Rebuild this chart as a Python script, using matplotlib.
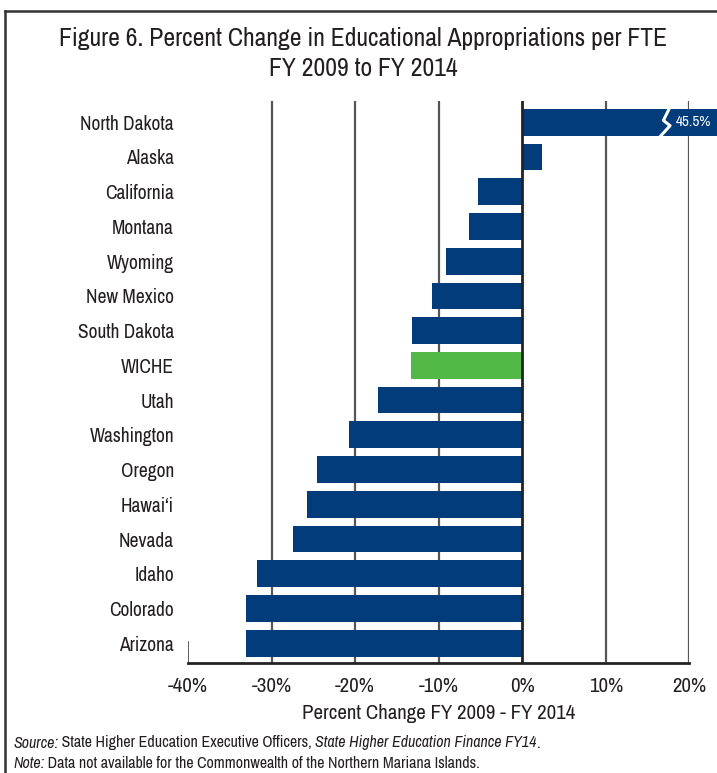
import numpy as np
import matplotlib.pyplot as plt
from matplotlib import font_manager as fm

# pick a narrow face if one is installed
names = {f.name for f in fm.fontManager.ttflist}
narrow = [n for n in names if "Narrow" in n or "Condensed" in n]
if "Liberation Sans Narrow" in names:
    plt.rcParams['font.family'] = ['Liberation Sans Narrow', 'DejaVu Sans']
    scale = 1.0
elif narrow:
    plt.rcParams['font.family'] = [sorted(narrow)[0], 'DejaVu Sans']
    scale = 1.0
else:
    plt.rcParams['font.family'] = ['DejaVu Sans']
    scale = 0.85

states = ["North Dakota", "Alaska", "California", "Montana", "Wyoming", "New Mexico",
          "South Dakota", "WICHE", "Utah", "Washington", "Oregon", "Hawai\u2018i",
          "Nevada", "Idaho", "Colorado", "Arizona"]
pct_change = [45.5, 2.4, -5.3, -6.4, -9.1, -10.8, -13.2, -13.3, -17.2, -20.7,
              -24.6, -25.8, -27.4, -31.8, -33.0, -33.0]
xticks = [-40, -30, -20, -10, 0, 10, 20]
xticklabels = ["-40%", "-30%", "-20%", "-10%", "0%", "10%", "20%"]

navy = "#023c7a"
green = "#52b846"
ink = "#231f20"
colors = [green if s == "WICHE" else navy for s in states]

fig = plt.figure(figsize=(7.17, 7.73), dpi=100)
ax = fig.add_axes([188/717, 1-662.7/773, (689.3-188)/717, (662.7-101)/773])

ypos = np.arange(len(states))
bars = ax.barh(ypos, pct_change, height=0.77, color=colors, zorder=3)
for b in bars:
    b.set_clip_on(False)

ax.set_xlim(-40, 20)
ax.set_ylim(len(states) - 1 + 0.56, -0.61)

# gridlines
for xv in xticks[1:]:
    if xv == 0:
        ax.axvline(xv, color="#222222", lw=2.0, zorder=4)
    else:
        ax.axvline(xv, color="#555555", lw=1.6, zorder=1)
ax.plot([-40, -40], [len(states) - 1 + 0.56, len(states) - 1 - 0.05], color="#444444", lw=1.2, zorder=1)

# break mark on the North Dakota bar
zig_x = [17.6, 16.9, 17.7, 16.6]
zig_y = [-0.39, -0.05, 0.1, 0.39]
ax.plot(zig_x, zig_y, color="white", lw=2.2, zorder=5, clip_on=False)
ax.text(18.4, 0, "45.5%", color="white", fontsize=11*scale, va="center", ha="left",
        zorder=6, clip_on=False)

for s in ["top", "right", "left"]:
    ax.spines[s].set_visible(False)
ax.spines["bottom"].set_color("#222222")
ax.spines["bottom"].set_linewidth(2.0)

ax.set_yticks(ypos)
ax.set_yticklabels(states, fontsize=14*scale, color=ink)
ax.tick_params(axis="y", length=0, pad=10)
ax.set_xticks(xticks)
ax.set_xticklabels(xticklabels, fontsize=15*scale, color=ink)
ax.tick_params(axis="x", length=0, pad=10)
ax.set_xlabel("Percent Change FY 2009 - FY 2014", fontsize=15*scale, color=ink, labelpad=6)

fig.text(363/717, 1-38/773, "Figure 6. Percent Change in Educational Appropriations per FTE",
         ha="center", va="center", fontsize=18.5*scale, color=ink)
fig.text(363/717, 1-68/773, "FY 2009 to FY 2014",
         ha="center", va="center", fontsize=18.5*scale, color=ink)

# frame around the figure
fig.add_artist(plt.Line2D([5/717, 5/717], [0, 1-11/773], color="#333333", lw=1.8))
fig.add_artist(plt.Line2D([5/717, 1.0], [1-11/773, 1-11/773], color="#333333", lw=1.8))

# footnotes with mixed italic
fig.canvas.draw()
renderer = fig.canvas.get_renderer()

def write_pieces(x_px, y_px, pieces):
    x = x_px
    for txt, style in pieces:
        t = fig.text(x/717, 1-y_px/773, txt, fontsize=11.5*scale, style=style,
                     va="center", ha="left", color=ink)
        bb = t.get_window_extent(renderer=renderer)
        x += bb.width

write_pieces(13, 743, [("Source:", "italic"), (" State Higher Education Executive Officers, ", "normal"),
                       ("State Higher Education Finance FY14", "italic"), (".", "normal")])
write_pieces(13, 763, [("Note:", "italic"),
                       (" Data not available for the Commonwealth of the Northern Mariana Islands.", "normal")])

fig.savefig("out.png", dpi=100)
